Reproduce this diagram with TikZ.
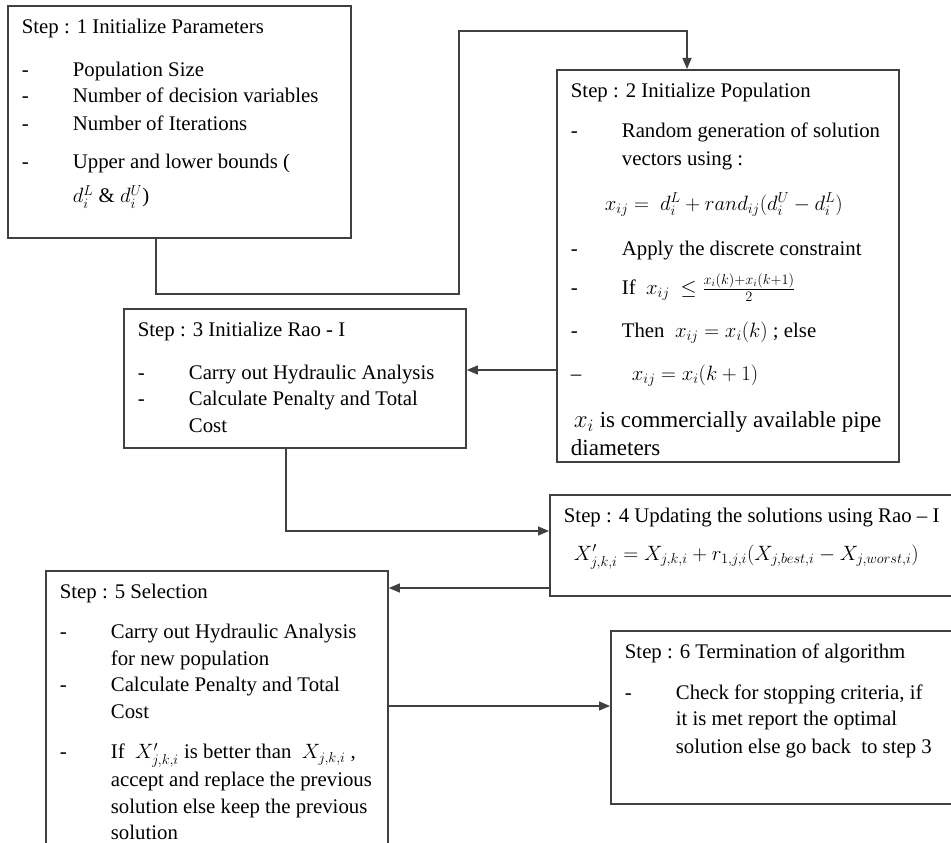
\documentclass[tikz,border=0pt]{standalone}
\usepackage{amssymb}
\usepackage{fontspec}
\setmainfont{Liberation Serif}
\usepackage{tikz}
\usepackage{xcolor}
\usetikzlibrary{
    arrows.meta,
    calc,
    positioning
}
\definecolor{linegray}{HTML}{404040}
\newcommand{\stepdash}{\makebox[51pt][l]{-}}
\newcommand{\stepindent}{\hspace*{51pt}}
\newcommand{\steptext}[3]{%
    \begin{minipage}[t][#2][t]{#1}\raggedright
    \lineskiplimit=-100pt\relax
    \rule{0pt}{27.5pt}#3%
    \end{minipage}}

\begin{document}
\begin{tikzpicture}[x=1pt, y=-1pt,
                    stepbox/.style={draw=linegray, line width=1.8pt, anchor=north west,
                        inner xsep=14pt, inner ysep=0pt,
                        font={\fontsize{20.8pt}{26.5pt}\selectfont}},
                    link/.style={draw=linegray, line width=1.4pt},
                    >={Triangle[length=11pt, width=9pt]}]
                    \fill[white] (0, 0) rectangle (951, 843);
                    \useasboundingbox (0, 0) rectangle (951, 843);
                    \node[stepbox] (s1) at (7, 5) {\steptext{315pt}{232pt}{%
                        Step : 1 Initialize Parameters\\[16.5pt]
                        \stepdash Population Size\\
                        \stepdash Number of decision variables\\[1.5pt]
                        \stepdash Number of Iterations\\[11.5pt]
                        \stepdash Upper and lower bounds (\\[7.5pt]
                        \stepindent $d_i^L$ \& $d_i^U$)}};
                    \node[stepbox] (s2) at (556, 69) {\steptext{314pt}{392pt}{%
                        Step : 2 Initialize Population\\[13.5pt]
                        \stepdash Random generation of solution\\[1.5pt]
                        \stepindent vectors using :\\[18.5pt]
                        \hspace*{34pt}$x_{ij} =\ d_i^L + rand_{ij}(d_i^U - d_i^L)$\\[18.5pt]
                        \stepdash Apply the discrete constraint\\[12.5pt]
                        \stepdash If \ $x_{ij}\ \le \frac{x_i(k)+x_i(k+1)}{2}$\\[16.5pt]
                        \stepdash Then \ $x_{ij} = x_i(k)$ ; else\\[16.5pt]
                        \makebox[61pt][l]{--}$x_{ij} = x_i(k+1)$\par
                        \vspace{19pt}{\fontsize{23pt}{28pt}\selectfont
                        \makebox[314pt][l]{\hspace*{3pt}$x_i$ is commercially available pipe}\\
                        diameters\par}}};
                    \node[stepbox] (s3) at (123, 308) {\steptext{314pt}{139pt}{%
                        Step : 3 Initialize Rao - I\\[16.5pt]
                        \stepdash Carry out Hydraulic Analysis\\
                        \stepdash Calculate Penalty and Total\\
                        \stepindent Cost}};
                    \node[stepbox] (s4) at (549, 494) {\steptext{378pt}{101pt}{%
                        Step : 4 Updating the solutions using Rao -- I\\[11.5pt]
                        \hspace*{10pt}$X'_{j,k,i} = X_{j,k,i} + r_{1,j,i}(X_{j,best,i} - X_{j,worst,i})$}};
                    \node[stepbox] (s5) at (45, 570) {\steptext{314pt}{290pt}{%
                        Step : 5 Selection\\[14pt]
                        \stepdash Carry out Hydraulic Analysis\\
                        \stepindent for new population\\
                        \stepdash Calculate Penalty and Total\\
                        \stepindent Cost\\[14pt]
                        \stepdash If \ $X'_{j,k,i}$ is better than \ $X_{j,k,i}$ ,\\[1.5pt]
                        \stepindent accept and replace the previous\\
                        \stepindent solution else keep the previous\\
                        \stepindent solution}};
                    \node[stepbox] (s6) at (610, 630) {\steptext{317pt}{173pt}{%
                        Step : 6 Termination of algorithm\\[14.5pt]
                        \stepdash Check for stopping criteria, if\\
                        \stepindent it is met report the optimal\\[1.5pt]
                        \stepindent solution else go back \ to step 3}};
                    \coordinate (turn1) at (459, 294);
                    \coordinate (turn2) at (459, 31);
                    \draw[link, ->] ([xshift=149pt]s1.south west) |- (turn1) -- (turn2)
                        -| ([xshift=131pt]s2.north west);
                    \draw[link, ->] ([yshift=-301pt]s2.north west) -- ([yshift=-62pt]s3.north east);
                    \draw[link, ->] ([xshift=163pt]s3.south west) |- ([yshift=-37pt]s4.north west);
                    \draw[link, ->] ([yshift=-94pt]s4.north west) -- ([yshift=-18pt]s5.north east);
                    \draw[link, ->] ([yshift=-136pt]s5.north east) -- ([yshift=-76pt]s6.north west);
                \end{tikzpicture}
\end{document}
